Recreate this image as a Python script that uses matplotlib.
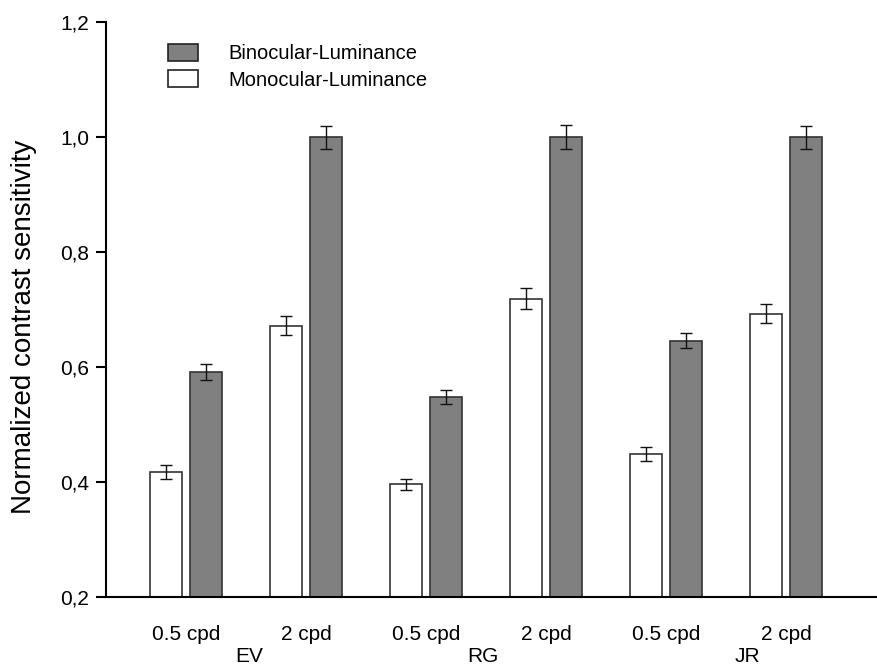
import numpy as np
import matplotlib
matplotlib.use("Agg")
import matplotlib.pyplot as plt
from matplotlib.patches import Patch

plt.rcParams['font.family'] = ['Liberation Sans', 'DejaVu Sans']

# subjects and spatial frequencies
subjects = ['EV', 'RG', 'JR']
freqs = ['0.5 cpd', '2 cpd']

# normalized contrast sensitivity, one entry per subject/frequency
mono = [0.418, 0.672, 0.396, 0.719, 0.449, 0.693]
mono_err = [0.012, 0.017, 0.010, 0.018, 0.012, 0.0165]
bino = [0.592, 1.0, 0.548, 1.0, 0.646, 1.0]
bino_err = [0.014, 0.020, 0.012, 0.021, 0.013, 0.020]

yticks = [0.2, 0.4, 0.6, 0.8, 1.0, 1.2]
ytick_labels = ['0,2', '0,4', '0,6', '0,8', '1,0', '1,2']

W, H = 878, 668
fig = plt.figure(figsize=(W / 100, H / 100), dpi=100)
ax = fig.add_axes([106 / W, (H - 597) / H, (W - 106) / W, (597 - 22) / H])

x = np.arange(1, len(mono) + 1)
bw = 0.267
off = 1 / 6

ax.bar(x - off, mono, bw, color='white', edgecolor='#333333', linewidth=1.2,
       label='Monocular-Luminance', zorder=2)
ax.bar(x + off, bino, bw, color='#808080', edgecolor='#333333', linewidth=1.2,
       label='Binocular-Luminance', zorder=2)
ax.errorbar(x - off, mono, yerr=mono_err, fmt='none', ecolor='#111111',
            elinewidth=1.0, capsize=4.3, capthick=1.0, zorder=3)
ax.errorbar(x + off, bino, yerr=bino_err, fmt='none', ecolor='#111111',
            elinewidth=1.0, capsize=4.3, capthick=1.0, zorder=3)

ax.set_xlim(1 / 3, 1 / 3 + 772 / 120)
ax.set_ylim(0.2, 1.2)
ax.set_yticks(yticks)
ax.set_yticklabels(ytick_labels)
ax.set_xticks(x)
ax.set_xticklabels(freqs * len(subjects))

for s in ['top', 'right']:
    ax.spines[s].set_visible(False)
for s in ['left', 'bottom']:
    ax.spines[s].set_linewidth(1.5)

ax.tick_params(axis='y', direction='out', length=7, width=1.5, labelsize=15, pad=5)
ax.tick_params(axis='x', length=0, labelsize=15, pad=20)

# subject names below the frequency labels
group_pos = [1.53, 3.47, 5.68]
for name, gx in zip(subjects, group_pos):
    ax.text(gx, -0.103, name, transform=ax.get_xaxis_transform(),
            ha='center', va='center', fontsize=15)

ax.set_ylabel('Normalized contrast sensitivity', fontsize=20)
ax.yaxis.set_label_coords(-0.09, 0.47)

handles = [Patch(facecolor='#808080', edgecolor='#222222', linewidth=1.2),
           Patch(facecolor='white', edgecolor='#222222', linewidth=1.2)]
ax.legend(handles, ['Binocular-Luminance', 'Monocular-Luminance'],
          loc='upper left', bbox_to_anchor=(0.07, 0.976), frameon=False,
          fontsize=14.5, handlelength=1.5, handleheight=0.9,
          handletextpad=1.5, labelspacing=0.35, borderaxespad=0)

fig.savefig('out.png', dpi=100)
